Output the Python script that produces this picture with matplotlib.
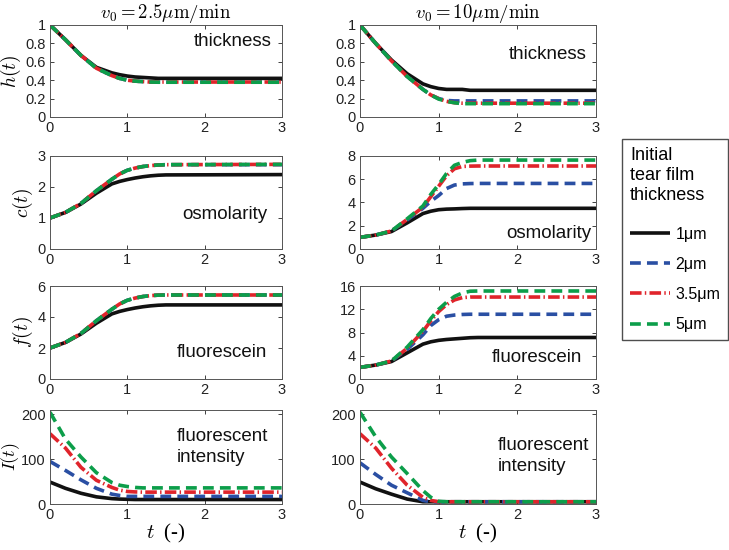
import matplotlib
matplotlib.use("Agg")
import matplotlib.pyplot as plt

plt.rcParams['font.family'] = ['Liberation Sans', 'DejaVu Sans']
plt.rcParams['mathtext.fontset'] = 'cm'

# ---------------- data ----------------
t = [0, 0.2, 0.4, 0.6, 0.8, 0.9, 1.0, 1.1, 1.2, 1.3, 1.4, 1.5, 3.0]
labels = ['1μm', '2μm', '3.5μm', '5μm']
col_titles = [r'$v_0 = 2.5\mu\mathrm{m}/\mathrm{min}$', r'$v_0 = 10\mu\mathrm{m}/\mathrm{min}$']
row_ylabels = [r'$h(t)$', r'$c(t)$', r'$f(t)$', r'$I(t)$']

# v0 = 2.5 um/min
h_slow = [
    [1.0, 0.84, 0.67, 0.54, 0.48, 0.46, 0.445, 0.435, 0.43, 0.425, 0.42, 0.42, 0.42],
    [1.0, 0.84, 0.67, 0.53, 0.45, 0.42, 0.40, 0.39, 0.385, 0.38, 0.38, 0.38, 0.38],
    [1.0, 0.84, 0.67, 0.53, 0.45, 0.42, 0.40, 0.39, 0.385, 0.38, 0.38, 0.38, 0.38],
    [1.0, 0.84, 0.67, 0.53, 0.45, 0.42, 0.40, 0.39, 0.385, 0.38, 0.378, 0.378, 0.378],
]
c_slow = [
    [1.0, 1.18, 1.45, 1.80, 2.10, 2.18, 2.24, 2.29, 2.33, 2.36, 2.38, 2.39, 2.40],
    [1.0, 1.18, 1.47, 1.88, 2.25, 2.42, 2.54, 2.61, 2.66, 2.69, 2.71, 2.72, 2.72],
    [1.0, 1.18, 1.47, 1.88, 2.25, 2.42, 2.54, 2.61, 2.66, 2.69, 2.71, 2.72, 2.73],
    [1.0, 1.18, 1.47, 1.88, 2.25, 2.42, 2.54, 2.61, 2.66, 2.69, 2.71, 2.72, 2.73],
]
f_slow = [
    [2.0, 2.36, 2.90, 3.60, 4.20, 4.36, 4.48, 4.58, 4.66, 4.72, 4.76, 4.78, 4.78],
    [2.0, 2.36, 2.94, 3.76, 4.50, 4.84, 5.08, 5.22, 5.32, 5.38, 5.41, 5.42, 5.42],
    [2.0, 2.36, 2.94, 3.76, 4.50, 4.84, 5.08, 5.22, 5.32, 5.38, 5.41, 5.42, 5.42],
    [2.0, 2.36, 2.94, 3.76, 4.50, 4.84, 5.08, 5.22, 5.32, 5.38, 5.41, 5.42, 5.42],
]
I_slow = [
    [49, 35, 24, 16, 12, 11, 10.5, 10, 10, 10, 10, 10, 10],
    [95, 75, 54, 35, 22, 19, 17, 17, 17, 17, 17, 17, 17],
    [157, 125, 82, 53, 37, 31, 28, 27, 26.5, 26.5, 26.5, 26.5, 26.5],
    [205, 145, 105, 70, 48, 42, 39, 37, 36, 36, 36, 36, 36],
]

# v0 = 10 um/min
h_fast = [
    [1.0, 0.80, 0.62, 0.47, 0.36, 0.33, 0.31, 0.30, 0.30, 0.30, 0.29, 0.29, 0.29],
    [1.0, 0.80, 0.61, 0.44, 0.30, 0.24, 0.20, 0.18, 0.175, 0.175, 0.175, 0.175, 0.175],
    [1.0, 0.80, 0.61, 0.44, 0.30, 0.24, 0.20, 0.17, 0.155, 0.15, 0.15, 0.15, 0.15],
    [1.0, 0.80, 0.61, 0.44, 0.30, 0.24, 0.195, 0.17, 0.155, 0.145, 0.145, 0.145, 0.145],
]
c_fast = [
    [1.0, 1.20, 1.50, 2.25, 3.05, 3.25, 3.38, 3.43, 3.45, 3.48, 3.50, 3.50, 3.50],
    [1.0, 1.20, 1.55, 2.50, 3.50, 4.10, 4.60, 5.20, 5.50, 5.60, 5.63, 5.64, 5.64],
    [1.0, 1.20, 1.55, 2.55, 3.60, 4.50, 5.40, 6.30, 6.90, 7.10, 7.13, 7.14, 7.14],
    [1.0, 1.20, 1.55, 2.60, 3.70, 4.70, 5.55, 6.50, 7.20, 7.45, 7.60, 7.65, 7.65],
]
f_fast = [
    [2.0, 2.40, 3.00, 4.50, 6.00, 6.40, 6.65, 6.80, 6.90, 7.00, 7.10, 7.14, 7.14],
    [2.0, 2.40, 3.10, 5.10, 7.60, 9.20, 10.20, 10.80, 11.00, 11.10, 11.14, 11.14, 11.14],
    [2.0, 2.40, 3.10, 5.30, 8.20, 10.00, 11.60, 12.80, 13.60, 14.00, 14.10, 14.10, 14.10],
    [2.0, 2.40, 3.10, 5.50, 8.50, 10.40, 12.00, 13.20, 14.20, 14.80, 15.10, 15.14, 15.14],
]
I_fast = [
    [49, 34, 22, 11, 5, 5, 5, 5, 5, 5, 5, 5, 5],
    [92, 66, 42, 25, 8, 5, 5, 5, 5, 5, 5, 5, 5],
    [157, 125, 80, 42, 15, 8, 5, 5, 5, 5, 5, 5, 5],
    [205, 150, 105, 68, 30, 15, 6, 5, 5, 5, 5, 5, 5],
]

data = [[h_slow, h_fast], [c_slow, c_fast], [f_slow, f_fast], [I_slow, I_fast]]
ylims = [[(0, 1), (0, 1)], [(0, 3), (0, 8)], [(0, 6), (0, 16)], [(0, 210), (0, 210)]]
yticks = [[[0, 0.2, 0.4, 0.6, 0.8, 1], [0, 0.2, 0.4, 0.6, 0.8, 1]],
          [[0, 1, 2, 3], [0, 2, 4, 6, 8]],
          [[0, 2, 4, 6], [0, 4, 8, 12, 16]],
          [[0, 100, 200], [0, 100, 200]]]
annots = [['thickness', 'thickness'], ['osmolarity', 'osmolarity'],
          ['fluorescein', 'fluorescein'],
          ['fluorescent\nintensity', 'fluorescent\nintensity']]

# ---------------- style ----------------
colors = ['#111111', '#2a4fa3', '#e0242b', '#0c9e4a']
dashes = [None, (3.0, 1.7), (3.2, 0.9, 0.4, 0.9), (3.0, 1.7)]
lw = 2.6

W, H = 729, 550
fig = plt.figure(figsize=(W / 100, H / 100), dpi=100)

col_x = [(50, 232), (360, 236)]
rows = [(25, 117), (156, 249), (286, 379), (410, 504)]
ylabel_right_px = [23, 35, 35, 22]
ylabel_sizes = [14, 14, 14, 13]

# annotation positions (axes fraction) per row/col: (x, y, ha, va)
annot_pos = [
    [(0.955, 0.82, 'right', 'center'), (0.96, 0.68, 'right', 'center')],
    [(0.935, 0.37, 'right', 'center'), (0.98, 0.17, 'right', 'center')],
    [(0.935, 0.28, 'right', 'center'), (0.94, 0.23, 'right', 'center')],
    [(0.545, 0.81, 'left', 'top'), (0.585, 0.71, 'left', 'top')],
]

handles = None
for r in range(4):
    for c in range(2):
        x0, w = col_x[c]
        top, bot = rows[r]
        ax = fig.add_axes([x0 / W, 1 - bot / H, w / W, (bot - top) / H])
        hs = []
        for k in range(4):
            ln, = ax.plot(t, data[r][c][k], color=colors[k], lw=lw,
                          solid_capstyle='butt', dash_capstyle='butt')
            if dashes[k] is not None:
                ln.set_dashes(dashes[k])
            hs.append(ln)
        handles = hs
        ax.set_xlim(0, 3)
        ax.set_ylim(*ylims[r][c])
        ax.set_xticks([0, 1, 2, 3])
        ax.set_yticks(yticks[r][c])
        ax.set_yticklabels([('%g' % v) for v in yticks[r][c]])
        ax.tick_params(direction='in', length=3, width=0.6, top=True, right=True,
                       labelsize=10.5, colors='#222222', pad=3)
        for s in ax.spines.values():
            s.set_linewidth(0.7)
            s.set_color('#555555')
        xa, ya, ha, va = annot_pos[r][c]
        ax.text(xa, ya, annots[r][c], transform=ax.transAxes, ha=ha, va=va,
                fontsize=13.5, linespacing=1.3, color='#111111')
        if c == 0:
            ax.set_ylabel(row_ylabels[r], fontsize=ylabel_sizes[r])
            ax.yaxis.set_label_coords((ylabel_right_px[r] - x0) / w, 0.5)
        if r == 0:
            ax.set_title(col_titles[c], fontsize=13.5, pad=5)
        if r == 3:
            ax.set_xlabel(r'$t$  (-)', fontsize=15, labelpad=0,
                          fontfamily=['Liberation Serif', 'DejaVu Serif'])

leg = fig.legend(handles, labels, loc='upper left',
                 bbox_to_anchor=(622 / W, 1 - 139 / H),
                 title='Initial\ntear film\nthickness', title_fontsize=13,
                 fontsize=11.5, frameon=True, fancybox=False, handlelength=2.5,
                 handletextpad=0.35, labelspacing=0.95, borderpad=0.5,
                 borderaxespad=0)
leg._legend_box.align = 'left'
leg._legend_box.sep = 16
leg.get_title().set_linespacing(1.25)
leg.get_frame().set_edgecolor('#222222')
leg.get_frame().set_linewidth(1.0)

fig.savefig('out.png', dpi=100)
